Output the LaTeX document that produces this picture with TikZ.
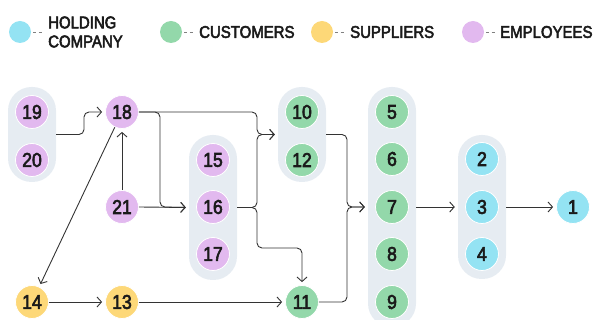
\documentclass[tikz,border=0pt]{standalone}
\usepackage{fontspec}
\setmainfont{Liberation Sans}[FakeStretch=0.88,FakeBold=3]
\usetikzlibrary{arrows.meta}
\definecolor{hold}{HTML}{94E3F3}
\definecolor{cust}{HTML}{93D8AA}
\definecolor{supp}{HTML}{FDD878}
\definecolor{empl}{HTML}{E2B9EF}
\definecolor{grpc}{HTML}{E6ECF2}
\definecolor{ink}{HTML}{1A1A1A}
\definecolor{wire}{HTML}{333333}
\tikzset{
  ent/.style={circle, minimum size=33pt, inner sep=0pt, draw=white, line width=0.8pt,
    text=ink, font=\fontsize{20}{20}\selectfont},
  legc/.style={circle, minimum size=22pt, inner sep=0pt},
  legt/.style={anchor=west, inner sep=2pt, text=ink, align=left,
    font=\fontsize{17}{19}\selectfont},
  legdash/.style={draw=gray, line width=0.7pt, dash pattern=on 3pt off 2.5pt,
    shorten <=2pt, shorten >=2pt},
  grpbox/.style={rectangle, fill=grpc, minimum width=48pt, rounded corners=23.5pt, inner sep=0pt},
  conn/.style={draw=wire, line width=0.9pt, rounded corners=5pt,
    -{Straight Barb[length=4.5pt,width=10pt]}, shorten >=3pt},
}
\begin{document}
\begin{tikzpicture}[x=1pt,y=-1pt]
\useasboundingbox (0,0) rectangle (595,320);
\clip (0,0) rectangle (595,320);
% legend
\node[legc, fill=hold] (lh) at (20,32) {};
\node[legt] (th) at (46,32) {HOLDING\\COMPANY};
\draw[legdash] (lh) -- (th);
\node[legc, fill=cust] (lc) at (171,32) {};
\node[legt] (tc) at (197,32) {CUSTOMERS};
\draw[legdash] (lc) -- (tc);
\node[legc, fill=supp] (ls) at (322,32) {};
\node[legt] (ts) at (348,32) {SUPPLIERS};
\draw[legdash] (ls) -- (ts);
\node[legc, fill=empl] (le) at (473,32) {};
\node[legt] (te) at (498,32) {EMPLOYEES};
\draw[legdash] (le) -- (te);
% groups
\node[grpbox, minimum height=95pt] (g1920) at (32,134.5) {};
\node[grpbox, minimum height=145pt] (g1517) at (213,207.5) {};
\node[grpbox, minimum height=95pt] (g1012) at (302,134.5) {};
\node[grpbox, minimum height=240pt] (g59) at (392,207) {};
\node[grpbox, minimum height=144pt] (g24) at (482,207) {};
% entities
\node[ent, fill=empl] (n19) at (32,112) {19};
\node[ent, fill=empl] (n20) at (32,160) {20};
\node[ent, fill=empl] (n18) at (122,112) {18};
\node[ent, fill=empl] (n21) at (122,207) {21};
\node[ent, fill=supp] (n14) at (32,302) {14};
\node[ent, fill=supp] (n13) at (122,302) {13};
\node[ent, fill=empl] (n15) at (213,160) {15};
\node[ent, fill=empl] (n16) at (213,207) {16};
\node[ent, fill=empl] (n17) at (213,254) {17};
\node[ent, fill=cust] (n10) at (302,112) {10};
\node[ent, fill=cust] (n12) at (302,160) {12};
\node[ent, fill=cust] (n11) at (302,302) {11};
\node[ent, fill=cust] (n5) at (392,112) {5};
\node[ent, fill=cust] (n6) at (392,159) {6};
\node[ent, fill=cust] (n7) at (392,207) {7};
\node[ent, fill=cust] (n8) at (392,254) {8};
\node[ent, fill=cust] (n9) at (392,302) {9};
\node[ent, fill=hold] (n2) at (482,159) {2};
\node[ent, fill=hold] (n3) at (482,207) {3};
\node[ent, fill=hold] (n4) at (482,254) {4};
\node[ent, fill=hold] (n1) at (573,207) {1};
% connectors
\draw[conn] (g1920.east) -| (84,112) -- (n18.west);
\draw[conn] (n18.east) -| (160,207) -- (g1517.west);
\draw[conn] (n21.east) -- (g1517.west);
\draw[conn] (n18.east) -| (257,134.5) -- (g1012.west);
\draw[conn] (n21.north) -- (n18.south);
\draw[conn] (n18) -- (n14);
\draw[conn] (n14.east) -- (n13.west);
\draw[conn] (n13.east) -- (n11.west);
\draw[conn] (g1517.east) -| (257,134.5) -- (g1012.west);
\draw[conn] (g1517.east) -| (257,248) -| (n11.north);
\draw[conn] (g1012.east) -| (347,207) -- (g59.west);
\draw[conn] (n11.east) -| (347,207) -- (g59.west);
\draw[conn] (g59.east) -- (g24.west);
\draw[conn] (g24.east) -- (n1.west);
\end{tikzpicture}
\end{document}
